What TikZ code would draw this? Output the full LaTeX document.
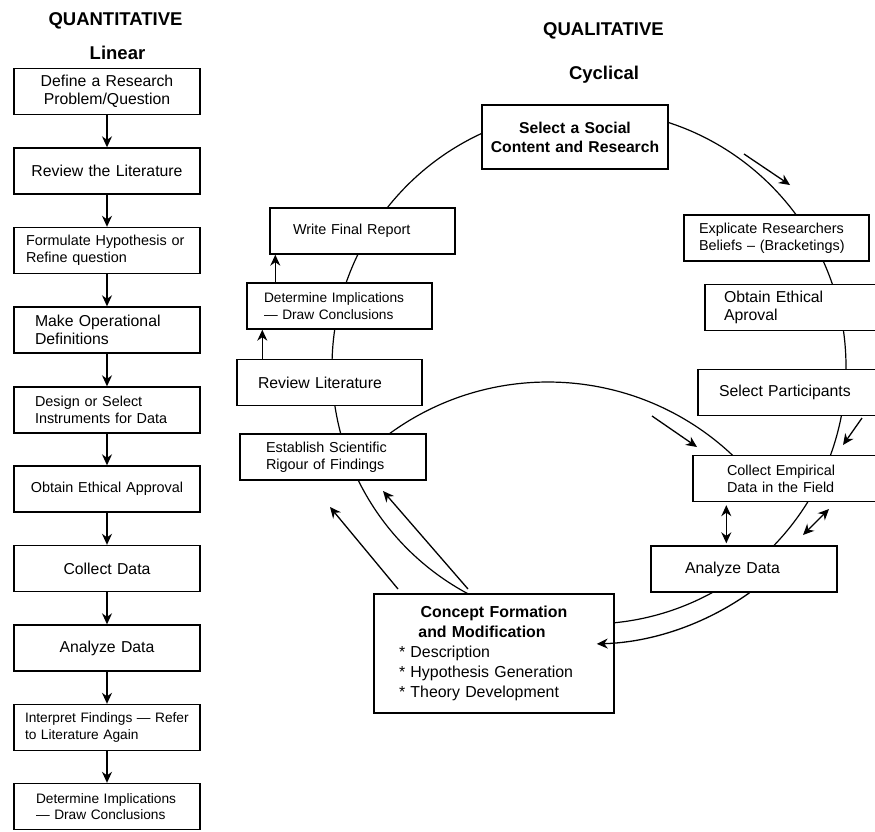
\documentclass[tikz,border=0pt]{standalone}
\usepackage{fontspec}
\setmainfont{Liberation Sans}
\usetikzlibrary{arrows.meta,calc}

\tikzset{
  box/.style={draw, line width=1.4pt, fill=white, minimum height=46pt, inner ysep=0pt},
  lft/.style 2 args={align=left, inner xsep=#1, text width=#2},
  mid/.style={align=center, inner xsep=5pt, text width=176pt},
  lgtxt/.style={font=\fontsize{15.8pt}{18.5pt}\selectfont},
  mdtxt/.style={font=\fontsize{14.4pt}{17.2pt}\selectfont},
  smtxt/.style={font=\fontsize{13.7pt}{16.6pt}\selectfont},
  ttl/.style={font=\bfseries\fontsize{18.5pt}{22pt}\selectfont, inner sep=0pt, anchor=base},
  cyc/.style={line width=1.2pt},
  arr/.style={line width=1.3pt, -{Stealth[length=11pt,width=10pt]}},
  dbl/.style={line width=1.3pt, {Stealth[length=11pt,width=10pt]}-{Stealth[length=11pt,width=10pt]}},
}

\begin{document}
\begin{tikzpicture}[x=1pt, y=-1pt]
\useasboundingbox (0,0) rectangle (875,831);
\clip (0,0) rectangle (875,831);

% titles
\node[ttl] (tqn) at (115.5,25) {QUANTITATIVE};
\node[ttl] (tlin) at (117.5,59) {Linear};
\node[ttl] (tql) at (603.5,35) {QUALITATIVE};
\node[ttl] (tcyc) at (604,79) {Cyclical};

% linear steps
\node[box, mid, lgtxt] (q1) at (107,91.5) {Define a Research\\Problem/Question};
\node[box, mid, lgtxt] (q2) at (107,171) {Review the Literature};
\node[box, lft={12pt}{162pt}, mdtxt] (q3) at (107,250.5) {Formulate Hypothesis or\\Refine question};
\node[box, lft={21pt}{144pt}, lgtxt] (q4) at (107,330) {Make Operational\\Definitions};
\node[box, lft={21pt}{144pt}, mdtxt] (q5) at (107,410) {Design or Select\\Instruments for Data};
\node[box, mid, mdtxt] (q6) at (107,489) {Obtain Ethical Approval};
\node[box, mid, lgtxt] (q7) at (107,568.5) {Collect Data};
\node[box, mid, lgtxt] (q8) at (107,648) {Analyze Data};
\node[box, lft={11pt}{164pt}, smtxt] (q9) at (107,727.5) {Interpret Findings — Refer\\to Literature Again};
\node[box, lft={22pt}{142pt}, smtxt] (q10) at (107,806.5) {Determine Implications\\— Draw Conclusions};

\draw[arr] (q1) -- (q2);
\draw[arr] (q2) -- (q3);
\draw[arr] (q3) -- (q4);
\draw[arr] (q4) -- (q5);
\draw[arr] (q5) -- (q6);
\draw[arr] (q6) -- (q7);
\draw[arr] (q7) -- (q8);
\draw[arr] (q8) -- (q9);
\draw[arr] (q9) -- (q10);

% cycle
\coordinate (o) at (589,367);
\coordinate (oi) at (548,651);
\draw[cyc] (o) circle[radius=257];
\draw[cyc] ($(oi)+(-128:269)$) arc[start angle=-128, end angle=-45, radius=269];

\node[box, mid, minimum height=64pt, font=\bfseries\fontsize{15.7pt}{19pt}\selectfont] (soc) at (575,137) {Select a Social\\Content and Research};
\node[box, lft={23pt}{139pt}, mdtxt] (wfr) at (362.5,231) {Write Final Report};
\node[box, lft={17pt}{151pt}, smtxt] (dic) at (339.5,306) {Determine Implications\\— Draw Conclusions};
\node[box, lft={21pt}{143pt}, lgtxt] (rlit) at (329.5,382.5) {Review Literature};
\node[box, lft={26pt}{134pt}, mdtxt] (esr) at (333,457) {Establish Scientific\\Rigour of Findings};
\node[box, lft={15pt}{155pt}, mdtxt] (exb) at (776.5,238) {Explicate Researchers\\Beliefs – (Bracketings)};
\node[box, lft={19pt}{148pt}, lgtxt] (oea) at (798,307.5) {Obtain Ethical\\Aproval};
\node[box, lft={21pt}{144pt}, lgtxt] (spt) at (791,392.5) {Select Participants};
\node[box, lft={34pt}{118pt}, mdtxt] (ced) at (786,478.5) {Collect Empirical\\Data in the Field};
\node[box, lft={34pt}{118pt}, lgtxt] (ana) at (744,569) {Analyze Data};
\node[box, lft={25pt}{190pt}, minimum height=119pt, font=\fontsize{15.9pt}{20pt}\selectfont] (cfm) at (494,653.5)
  {{\centering\bfseries Concept Formation\hspace*{24pt}\\and Modification\hspace*{24pt}\par}* Description\\{}* Hypothesis Generation\\{}* Theory Development};

\draw[arr] ([xshift=29pt]dic.north west) -- ([xshift=29pt]dic.north west |- wfr.south);
\draw[arr] ([xshift=26pt]rlit.north west) -- ([xshift=26pt]rlit.north west |- dic.south);
\draw[dbl, shorten <=3pt, shorten >=2pt] ([xshift=34pt]ced.south west) -- ([xshift=34pt]ced.south west |- ana.north);

\draw[arr] (744,154) -- (790,185);
\draw[arr] (652,416) -- (697,447);
\draw[arr] (862,418) -- (843,445);
\draw[dbl] (803,535) -- (829,509);
\draw[arr] (398,589) -- (330,507);
\draw[arr] (468,589) -- (383,491);
\draw[arr] ($(o)+(54.5:277)$) arc[start angle=54.5, end angle=88.4, radius=277];

\end{tikzpicture}
\end{document}
